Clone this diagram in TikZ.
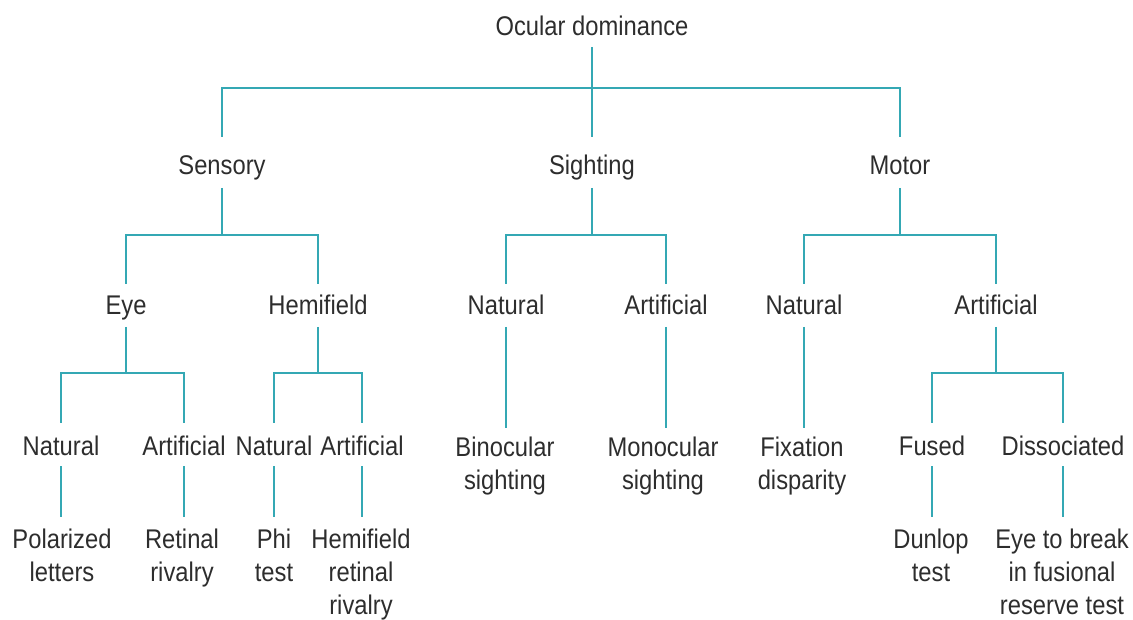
\documentclass[tikz,border=0pt]{standalone}
\usepackage{fontspec}
\setmainfont{Liberation Sans}[FakeStretch=0.88]
\usetikzlibrary{calc}
\definecolor{teal1}{RGB}{52,168,180}
\definecolor{txt}{RGB}{45,45,45}
\begin{document}
\begin{tikzpicture}[x=1pt,y=-1pt,
  conn/.style={draw=teal1,line width=2.9pt},
  lbl/.style={inner sep=0pt,anchor=base,text=txt,font=\fontsize{27}{33}\selectfont},
  mlbl/.style={inner sep=0pt,anchor=north,align=center,text=txt,font=\fontsize{27}{33}\selectfont}]
\useasboundingbox (0,0) rectangle (1133,620);
% level 0
\node[lbl] (root) at (592,35.5) {Ocular dominance};
% level 1
\node[lbl] (sens) at (222,174.5) {Sensory};
\node[lbl] (sigh) at (592,174.5) {Sighting};
\node[lbl] (moto) at (900,174.5) {Motor};
% level 2
\node[lbl] (eye) at (126,314.5) {Eye};
\node[lbl] (hemi) at (318,314.5) {Hemifield};
\node[lbl] (sn) at (506,314.5) {Natural};
\node[lbl] (sa) at (666,314.5) {Artificial};
\node[lbl] (mn) at (804,314.5) {Natural};
\node[lbl] (ma) at (996,314.5) {Artificial};
% level 3
\node[lbl] (en) at (61,455.5) {Natural};
\node[lbl] (ea) at (184,455.5) {Artificial};
\node[lbl] (hn) at (274,455.5) {Natural};
\node[lbl] (ha) at (362,455.5) {Artificial};
\node[mlbl] (bino) at (505,436.5) {Binocular\\sighting};
\node[mlbl] (mono) at (663,436.5) {Monocular\\sighting};
\node[mlbl] (fix) at (802,436.5) {Fixation\\disparity};
\node[lbl] (fused) at (932,455.5) {Fused};
\node[lbl] (diss) at (1063,455.5) {Dissociated};
% level 4
\node[mlbl] (pol) at (62,528.5) {Polarized\\letters};
\node[mlbl] (ret) at (182,528.5) {Retinal\\rivalry};
\node[mlbl] (phi) at (274,528.5) {Phi\\test};
\node[mlbl] (hret) at (361,528.5) {Hemifield\\retinal\\rivalry};
\node[mlbl] (dun) at (931,528.5) {Dunlop\\test};
\node[mlbl] (eyeb) at (1062,528.5) {Eye to break\\in fusional\\reserve test};
% connectors level 0 -> 1
\draw[conn] (root |- 0,47) -- (sigh |- 0,137);
\draw[conn] (root |- 0,88) -| (sens |- 0,137);
\draw[conn] (root |- 0,88) -| (moto |- 0,137);
% level 1 -> 2
\draw[conn] (sens |- 0,188) -- (sens |- 0,235) -| (eye |- 0,284);
\draw[conn] (sens |- 0,235) -| (hemi |- 0,284);
\draw[conn] (sigh |- 0,188) -- (sigh |- 0,235) -| (sn |- 0,284);
\draw[conn] (sigh |- 0,235) -| (sa |- 0,284);
\draw[conn] (moto |- 0,188) -- (moto |- 0,235) -| (mn |- 0,284);
\draw[conn] (moto |- 0,235) -| (ma |- 0,284);
% level 2 -> 3
\draw[conn] (eye |- 0,327) -- (eye |- 0,373) -| (en |- 0,423);
\draw[conn] (eye |- 0,373) -| (ea |- 0,423);
\draw[conn] (hemi |- 0,327) -- (hemi |- 0,373) -| (hn |- 0,423);
\draw[conn] (hemi |- 0,373) -| (ha |- 0,423);
\draw[conn] (ma |- 0,327) -- (ma |- 0,373) -| (fused |- 0,423);
\draw[conn] (ma |- 0,373) -| (diss |- 0,423);
\draw[conn] (sn |- 0,327) -- (sn |- 0,428);
\draw[conn] (sa |- 0,327) -- (sa |- 0,428);
\draw[conn] (mn |- 0,327) -- (mn |- 0,428);
% level 3 -> 4
\draw[conn] (en |- 0,466) -- (en |- 0,517);
\draw[conn] (ea |- 0,466) -- (ea |- 0,517);
\draw[conn] (hn |- 0,466) -- (hn |- 0,517);
\draw[conn] (ha |- 0,466) -- (ha |- 0,517);
\draw[conn] (fused |- 0,466) -- (fused |- 0,517);
\draw[conn] (diss |- 0,466) -- (diss |- 0,517);
\end{tikzpicture}
\end{document}
